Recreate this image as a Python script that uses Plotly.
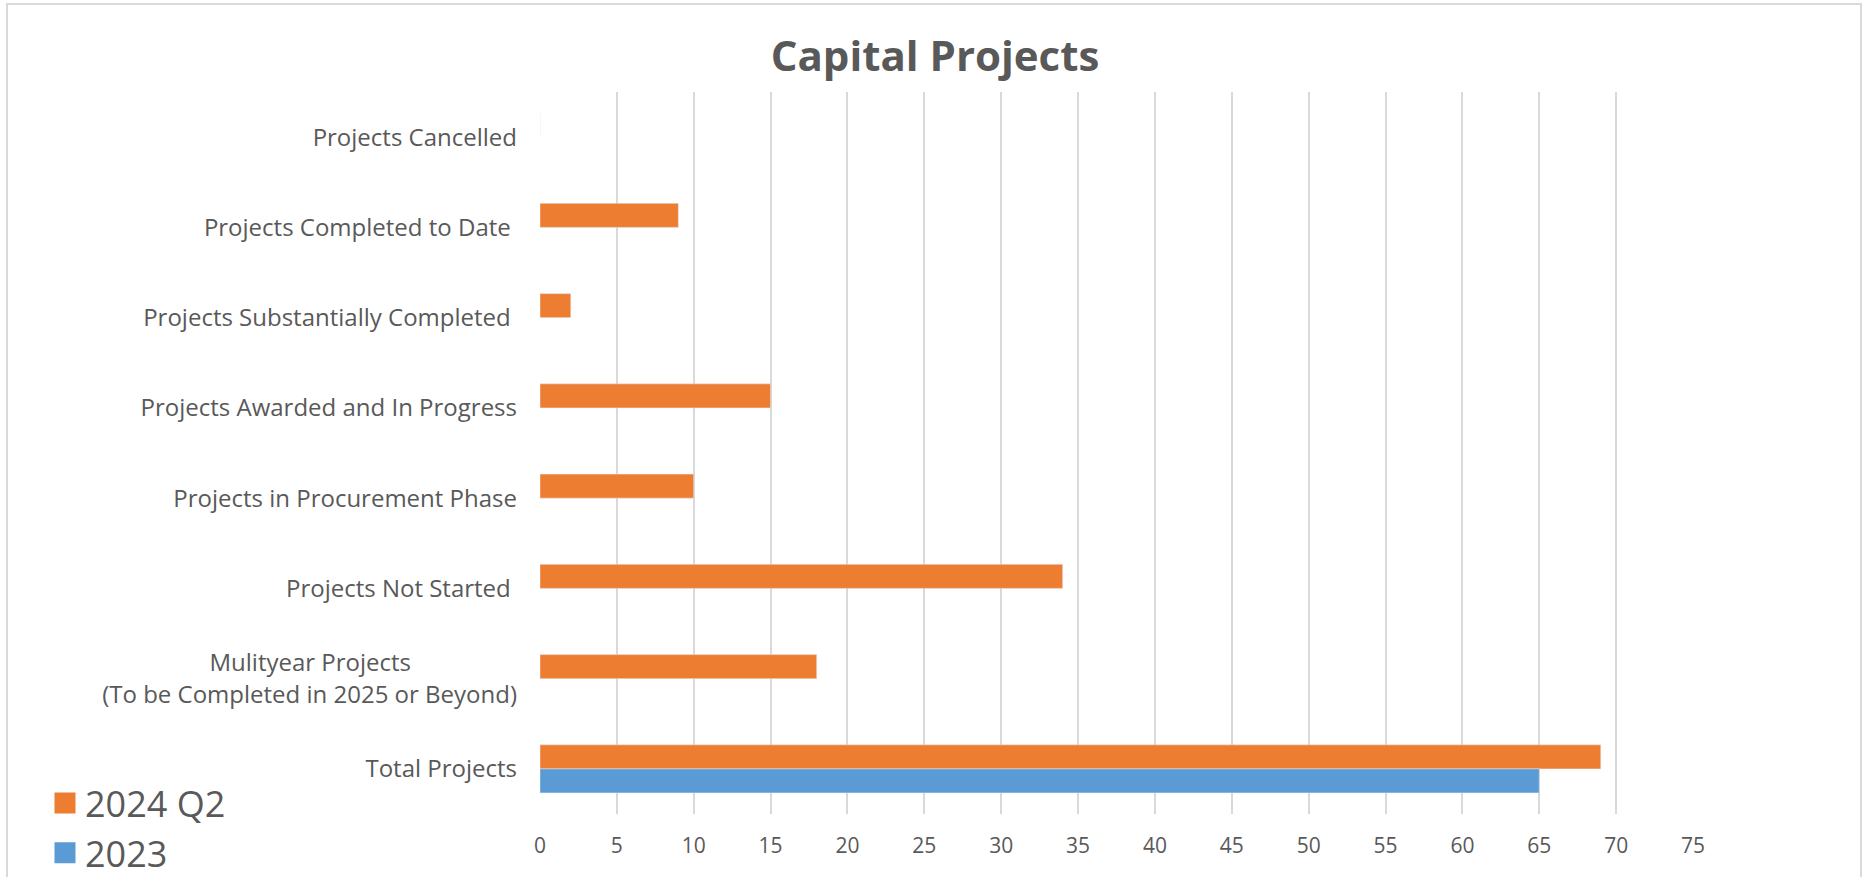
import plotly.graph_objects as go

# Category labels, listed top to bottom
categories = [
    "Projects Cancelled",
    "Projects Completed to Date\u00a0",
    "Projects Substantially Completed\u00a0",
    "Projects Awarded and In Progress",
    "Projects in Procurement Phase",
    "Projects Not Started\u00a0",
    "Mulityear Projects" + "\u00a0" * 17 + "<br>(To be Completed in 2025 or Beyond)",
    "Total Projects",
]

series_2024_q2 = [0, 9, 2, 15, 10, 34, 18, 69]
series_2023 = [None, None, None, None, None, None, None, 65]

x_ticks = list(range(0, 80, 5))

ORANGE = "#ED7D31"
BLUE = "#5B9BD5"
TEXT = "#595959"
GRID = "#D9D9D9"
FONT = "Open Sans"

fig = go.Figure()

fig.add_trace(go.Bar(
    y=categories, x=series_2024_q2, name="2024 Q2", orientation="h",
    marker=dict(color=ORANGE), showlegend=False,
))
fig.add_trace(go.Bar(
    y=categories, x=series_2023, name="2023", orientation="h",
    marker=dict(color=BLUE), showlegend=False,
))

# Legend entries with larger square swatches
for name, color in [("2024 Q2", ORANGE), ("2023", BLUE)]:
    fig.add_trace(go.Scatter(
        x=[None], y=[None], mode="markers", name=name,
        marker=dict(symbol="square", size=16, color=color,
                    line=dict(color=color, width=5)),
    ))

W, H = 1863, 877
L, R, T, B = 540, 170, 92, 63

fig.update_layout(
    width=W, height=H,
    margin=dict(l=L, r=R, t=T, b=B, pad=0, autoexpand=False),
    paper_bgcolor="white", plot_bgcolor="white",
    font=dict(family=FONT, color=TEXT),
    barmode="group", bargap=0.468, bargroupgap=0,
    title=dict(
        text="<b>Capital Projects</b>",
        font=dict(family=FONT, size=42, color=TEXT),
        x=935 / W, xref="container", xanchor="center",
        y=1 - 56 / H, yref="container", yanchor="middle",
    ),
    legend=dict(
        font=dict(family=FONT, size=36, color=TEXT),
        x=45 / W, xref="container", xanchor="left",
        y=(H - 773) / H, yref="container", yanchor="top",
        bgcolor="rgba(0,0,0,0)",
    ),
    xaxis=dict(
        range=[0, 75], tickvals=x_ticks, showgrid=True, gridcolor=GRID,
        gridwidth=2, zeroline=False, showline=False, automargin=False,
        tickfont=dict(family=FONT, size=21, color=TEXT),
        ticks="", ticklabelstandoff=17, fixedrange=True,
    ),
    yaxis=dict(
        autorange="reversed", showgrid=False, zeroline=False, showline=False,
        automargin=False,
        tickfont=dict(family=FONT, size=24, color=TEXT),
        ticks="", ticklabelstandoff=22, fixedrange=True,
    ),
    shapes=[dict(
        type="rect", xref="paper", yref="paper", layer="below",
        x0=(7 - L) / (W - L - R), x1=(1861 - L) / (W - L - R),
        y0=(H - B - 900) / (H - T - B), y1=(H - B - 4) / (H - T - B),
        line=dict(color=GRID, width=2), fillcolor="rgba(0,0,0,0)",
    )],
)

fig.write_html("out.html")
